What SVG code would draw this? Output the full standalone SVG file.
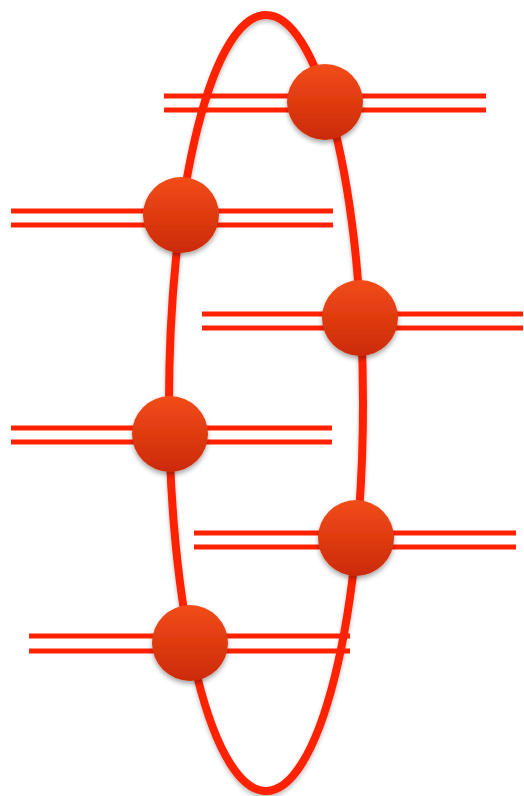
<svg xmlns="http://www.w3.org/2000/svg" width="524" height="796" viewBox="0 0 524 796">
<defs>
<linearGradient id="ball" x1="0" y1="0" x2="0" y2="1">
<stop offset="0" stop-color="#f24c1a"/>
<stop offset="1" stop-color="#cc2a06"/>
</linearGradient>
<filter id="sh" x="-30%" y="-30%" width="160%" height="170%">
<feGaussianBlur in="SourceAlpha" stdDeviation="2.5"/>
<feOffset dx="0" dy="3" result="b"/>
<feComponentTransfer><feFuncA type="linear" slope="0.35"/></feComponentTransfer>
<feMerge><feMergeNode/><feMergeNode in="SourceGraphic"/></feMerge>
</filter>
<filter id="sh2" x="-10%" y="-5%" width="120%" height="110%">
<feGaussianBlur in="SourceAlpha" stdDeviation="2"/>
<feOffset dx="0" dy="3"/>
<feComponentTransfer><feFuncA type="linear" slope="0.25"/></feComponentTransfer>
<feMerge><feMergeNode/><feMergeNode in="SourceGraphic"/></feMerge>
</filter>
</defs>
<style>
.ring{fill:none;stroke:#ff2200;stroke-width:8}
.wire{stroke:#ff2200;stroke-width:5;fill:none}
.ball{fill:url(#ball);filter:url(#sh)}
</style>
<g id="connectors">
<ellipse class="ring" cx="266" cy="403" rx="97" ry="388" filter="url(#sh2)"/>
</g>
<g id="node1">
<line class="wire" x1="164" y1="96" x2="486" y2="96"/>
<line class="wire" x1="164" y1="110" x2="486" y2="110"/>
<circle class="ball" cx="325" cy="102" r="38"/>
</g>
<g id="node2">
<line class="wire" x1="11" y1="211" x2="333" y2="211"/>
<line class="wire" x1="11" y1="225" x2="333" y2="225"/>
<circle class="ball" cx="181" cy="215" r="38"/>
</g>
<g id="node3">
<line class="wire" x1="202" y1="314" x2="523" y2="314"/>
<line class="wire" x1="202" y1="328" x2="523" y2="328"/>
<circle class="ball" cx="360" cy="318" r="38"/>
</g>
<g id="node4">
<line class="wire" x1="11" y1="428" x2="332" y2="428"/>
<line class="wire" x1="11" y1="442" x2="332" y2="442"/>
<circle class="ball" cx="170" cy="434" r="38"/>
</g>
<g id="node5">
<line class="wire" x1="194" y1="533" x2="516" y2="533"/>
<line class="wire" x1="194" y1="547" x2="516" y2="547"/>
<circle class="ball" cx="356" cy="538" r="38"/>
</g>
<g id="node6">
<line class="wire" x1="29" y1="636" x2="350" y2="636"/>
<line class="wire" x1="29" y1="651" x2="350" y2="651"/>
<circle class="ball" cx="190" cy="643" r="38"/>
</g>
</svg>
